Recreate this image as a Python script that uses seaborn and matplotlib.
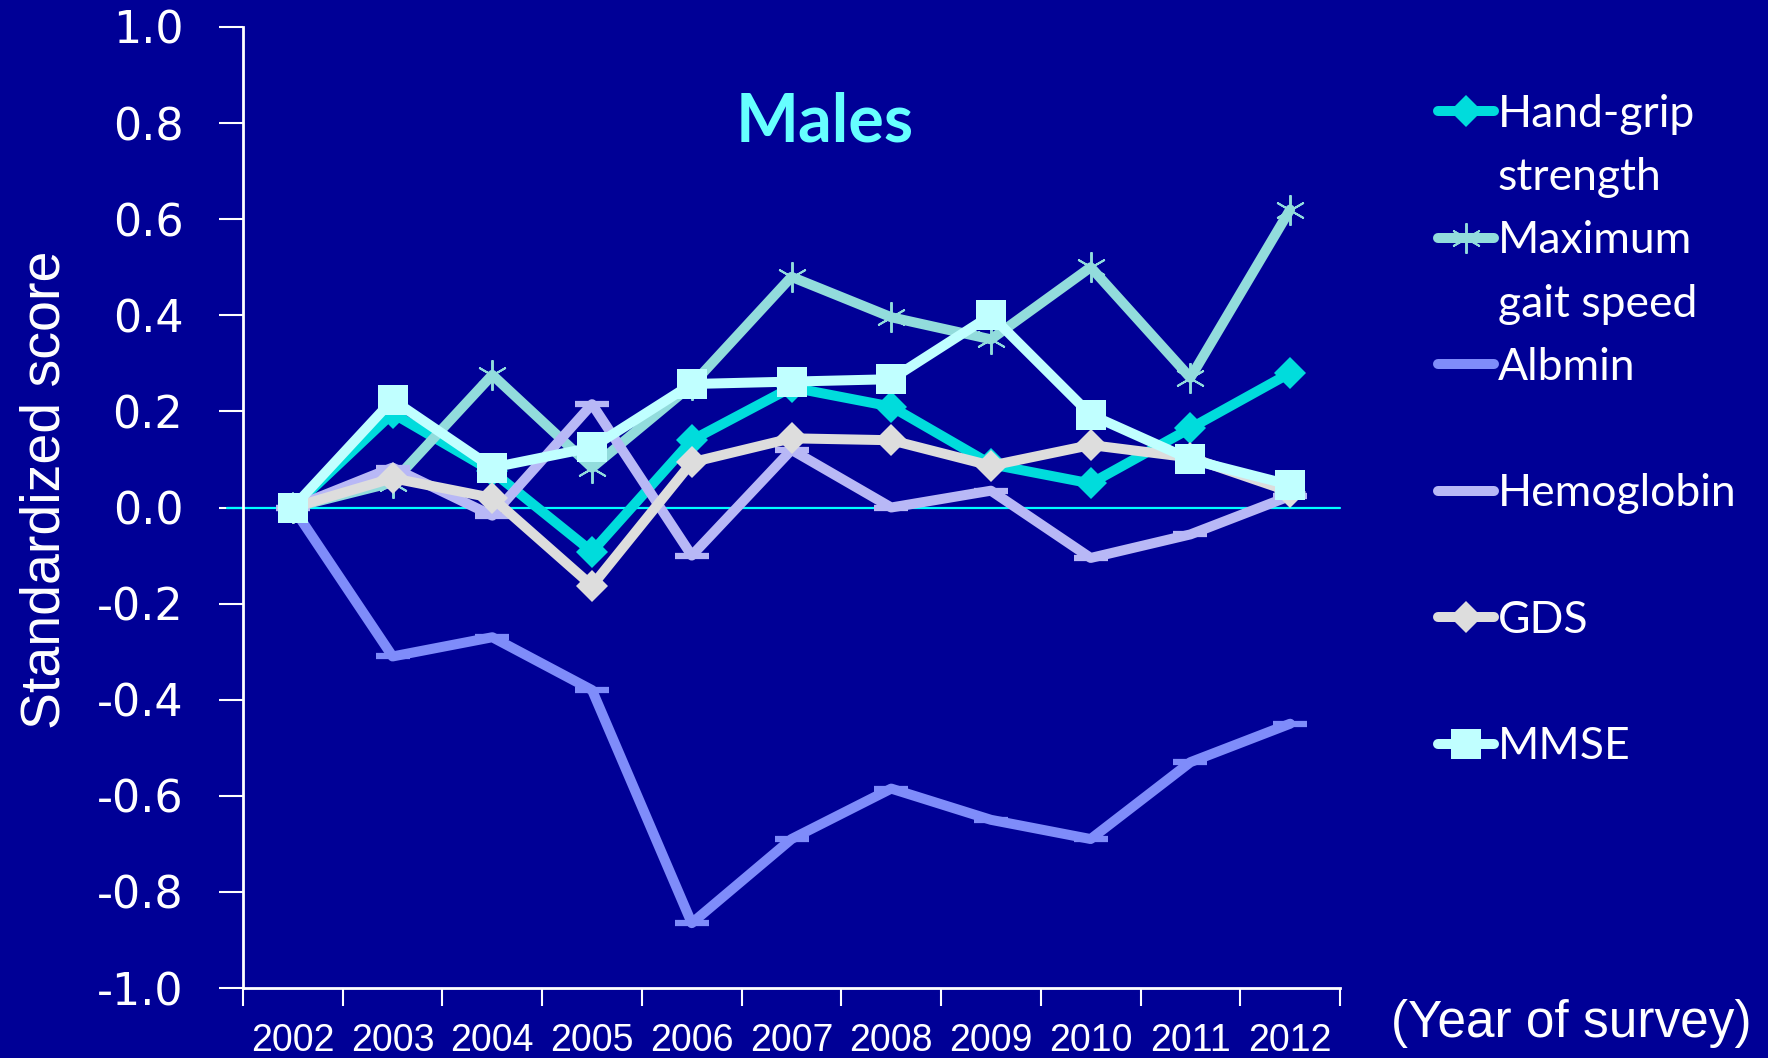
import numpy as np
import pandas as pd
import matplotlib
matplotlib.use("Agg")
import matplotlib.pyplot as plt
from matplotlib.lines import Line2D
import seaborn as sns

years = ["2002", "2003", "2004", "2005", "2006", "2007", "2008", "2009", "2010", "2011", "2012"]
hand_grip = [0.0, 0.196, 0.075, -0.092, 0.14, 0.25, 0.21, 0.09, 0.05, 0.165, 0.28]
gait_speed = [0.0, 0.052, 0.276, 0.083, 0.255, 0.48, 0.396, 0.35, 0.50, 0.27, 0.62]
albmin = [0.0, -0.31, -0.27, -0.38, -0.865, -0.69, -0.585, -0.65, -0.69, -0.53, -0.45]
hemoglobin = [0.0, 0.083, -0.017, 0.215, -0.10, 0.12, 0.0, 0.035, -0.105, -0.056, 0.024]
gds = [0.0, 0.061, 0.02, -0.163, 0.094, 0.144, 0.14, 0.087, 0.13, 0.104, 0.033]
mmse = [0.0, 0.224, 0.083, 0.125, 0.257, 0.262, 0.267, 0.40, 0.193, 0.10, 0.047]

series_names = ["Hand-grip strength", "Maximum gait speed", "Albmin", "Hemoglobin", "GDS", "MMSE"]
legend_rows = [["Hand-grip", "strength"], ["Maximum", "gait speed"], ["Albmin", " "],
               ["Hemoglobin", " "], ["GDS", " "], ["MMSE"]]
ytick_vals = [-1.0, -0.8, -0.6, -0.4, -0.2, 0.0, 0.2, 0.4, 0.6, 0.8, 1.0]
ytick_text = ["-1.0", "-0.8", "-0.6", "-0.4", "-0.2", "0.0", "0.2", "0.4", "0.6", "0.8", "1.0"]

bg = "#000096"
colors = ["#00DCDC", "#92DCDC", "#7F8CFA", "#B8B8F6", "#DDDDDD", "#C0FFFF"]
markers = ["D", (6, 2, 0), "_", "_", "D", "s"]
msizes = [16, 22, 24, 24, 16, 21]
mews = [0, 1.4, 4.5, 4.5, 0, 0]

df = pd.DataFrame({"year": years * 6,
                   "score": hand_grip + gait_speed + albmin + hemoglobin + gds + mmse,
                   "measure": np.repeat(series_names, len(years))})

sns.set_style("white")
plt.rcParams["axes.unicode_minus"] = False
arial = ["Liberation Sans", "DejaVu Sans"]

fig = plt.figure(figsize=(17.68, 10.58), dpi=100, facecolor=bg)
ax = fig.add_axes([243 / 1768, 70 / 1058, 1097 / 1768, 961 / 1058])
ax.set_facecolor(bg)

ax.axhline(0, xmin=-0.015, xmax=1, color="#00FFFF", lw=1.6, clip_on=False, zorder=1)

for i, name in enumerate(series_names):
    sub = df[df["measure"] == name]
    sns.lineplot(data=sub, x="year", y="score", ax=ax, sort=False, color=colors[i],
                 lw=7.2, marker=markers[i], markersize=msizes[i], mfc=colors[i],
                 mec=colors[i], mew=mews[i], zorder=3 + i, legend=False)

ax.set_xlim(-0.5, len(years) - 0.5)
ax.set_ylim(-1.0, 1.0)
ax.set_xlabel("")
ax.set_ylabel("")
ax.set_yticks(ytick_vals)
ax.set_yticklabels(ytick_text, fontsize=32, color="white", family="DejaVu Sans")
ax.tick_params(axis="y", direction="out", length=17, width=1.5, color="white", pad=26, left=True)
ax.set_xticks(range(len(years)))
ax.set_xticklabels(years, fontsize=27, color="white", family=arial)
ax.set_xticks(np.arange(len(years) + 1) - 0.5, minor=True)
ax.tick_params(axis="x", which="major", length=0, pad=25)
ax.tick_params(axis="x", which="minor", direction="out", length=13, width=1.5, color="white", bottom=True)

for side in ["top", "right"]:
    ax.spines[side].set_visible(False)
for side in ["left", "bottom"]:
    ax.spines[side].set_color("white")
    ax.spines[side].set_linewidth(2)

fig.text(825 / 1768, 1 - 123 / 1058, "Males", fontsize=48, fontweight="bold",
         color="#66FFFF", family="Lato", ha="center", va="center")
fig.text(46 / 1768, 1 - 490 / 1058, "Standardized score", fontsize=40, color="white",
         family=arial, rotation=90, ha="center", va="center")
fig.text(1571 / 1768, 1 - 1024 / 1058, "(Year of survey)", fontsize=37, color="white",
         family=arial, ha="center", va="center")

handles, labels = [], []
for i, rows in enumerate(legend_rows):
    handles.append(Line2D([], [], color=colors[i], lw=7.2, marker=markers[i],
                          markersize=msizes[i], mfc=colors[i], mec=colors[i], mew=mews[i],
                          solid_capstyle="round"))
    labels.append(rows[0])
    for extra in rows[1:]:
        handles.append(Line2D([], [], linestyle="none"))
        labels.append(extra)

leg = fig.legend(handles, labels, loc="upper left", bbox_to_anchor=(1438 / 1768, 1 - 94 / 1058),
                 frameon=False, borderpad=0, borderaxespad=0, handlelength=1.26,
                 handletextpad=0.08, labelspacing=0.5, prop={"family": "Lato", "size": 32})
for t in leg.get_texts():
    t.set_color("white")

fig.savefig("out.png", dpi=100, facecolor=bg)
